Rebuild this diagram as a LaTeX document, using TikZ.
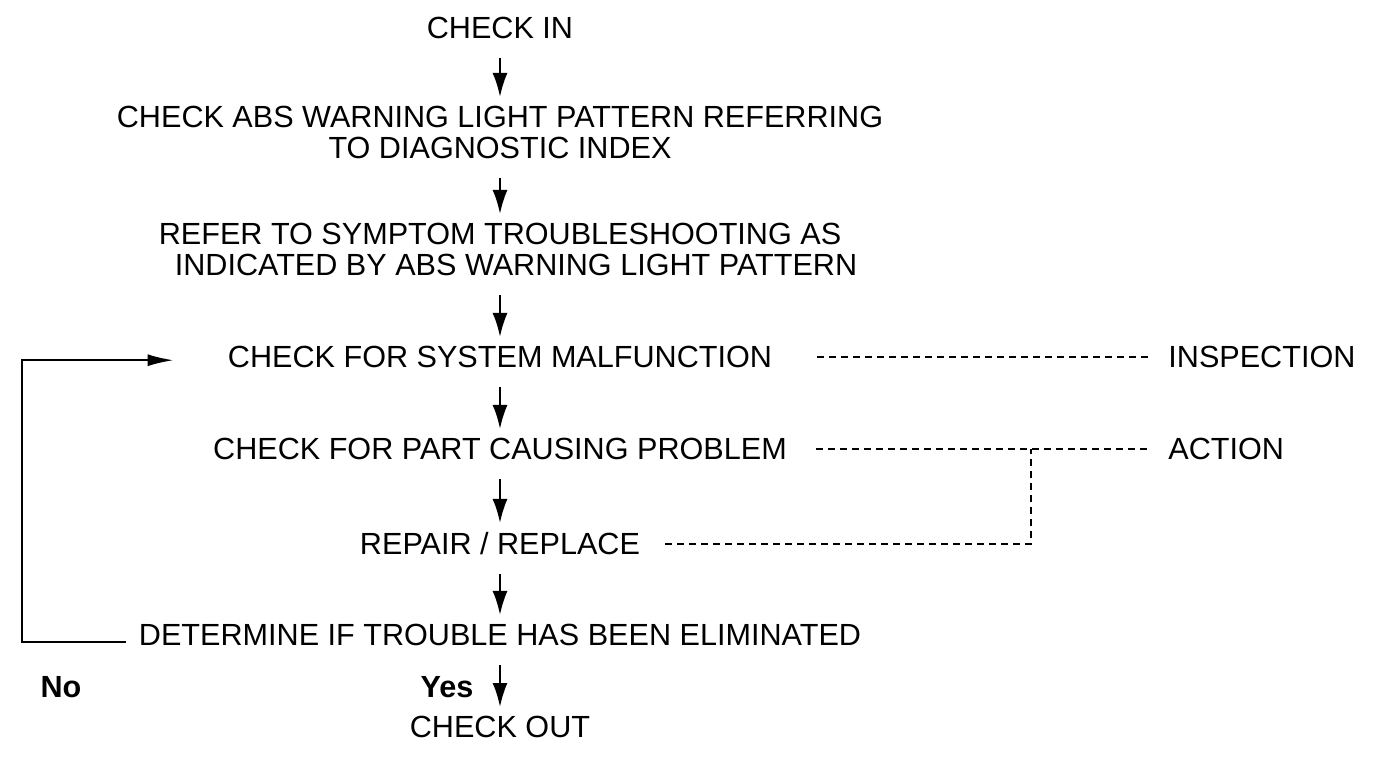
\documentclass[tikz,border=0pt]{standalone}
\usepackage{fontspec}
\setmainfont{Liberation Sans}
\usetikzlibrary{arrows.meta}

\begin{document}
\begin{tikzpicture}[x=0.5pt, y=-0.5pt,
    every node/.style={font=\fontsize{15.3}{15.5}\selectfont, inner sep=0pt},
    stage/.style={anchor=north, align=center},
    answer/.style={anchor=north, font=\fontsize{15.3}{15.5}\selectfont\bfseries},
    flow/.style={-{Latex[length=12pt, width=7.5pt]}, line width=1.1pt, shorten <=9.5pt, shorten >=4.5pt},
    loopline/.style={-{Latex[length=13pt, width=6pt]}, line width=1pt},
    guide/.style={line width=1pt, dash pattern=on 3.5pt off 2.5pt}]
		% Page size
		\useasboundingbox (0,0) rectangle (1392,758);
		
		% MAIN COLUMN
		\node[stage] (checkin) at (500,17) {CHECK IN};
		\node[stage] (pattern) at (500,106) {CHECK ABS WARNING LIGHT PATTERN REFERRING\\TO DIAGNOSTIC INDEX};
		\node[stage] (symptom) at (500,223) {REFER TO SYMPTOM TROUBLESHOOTING AS\\\hspace*{16pt}INDICATED BY ABS WARNING LIGHT PATTERN};
		\node[stage] (system) at (500,346) {CHECK FOR SYSTEM MALFUNCTION};
		\node[stage] (part) at (500,438) {CHECK FOR PART CAUSING PROBLEM};
		\node[stage] (repair) at (500,532) {REPAIR / REPLACE};
		\node[stage] (determine) at (500,624) {DETERMINE IF TROUBLE HAS BEEN ELIMINATED};
		\node[stage] (checkout) at (500,716) {CHECK OUT};
		
		% Arrows down the column
		\foreach \from/\to in {checkin/pattern, pattern/symptom, symptom/system, system/part,
		                       part/repair, repair/determine, determine/checkout}
		  \draw[flow] (\from.south) -- (\to.north);
		
		% RIGHT SIDE: phase labels
		\coordinate (sidecol) at (1168,0);
		\node[anchor=west] (inspection) at (system.east -| sidecol) {INSPECTION};
		\node[anchor=west] (action) at (part.east -| sidecol) {ACTION};
		
		% Dashed guides
		\draw[guide, shorten <=22.5pt, shorten >=9pt] (system.east) -- (inspection.west);
		\draw[guide, shorten <=14.5pt, shorten >=9pt] (part.east) -- (action.west) coordinate[pos=0.641] (junction);
		\draw[guide, shorten <=12.5pt] (repair.east) -| (junction);
		
		% Answers
		\node[answer] (yes) at (447,676) {Yes};
		\node[answer] (no) at (61,676) {No};
		
		% Loop back when not eliminated
		\coordinate (loopcorner) at (22,500);
		\draw[loopline, shorten <=6.5pt, shorten >=27pt] ([yshift=-3.5pt]determine.west) -| (loopcorner) |- ([yshift=-1.5pt]system.west);
		
\end{tikzpicture}
\end{document}
